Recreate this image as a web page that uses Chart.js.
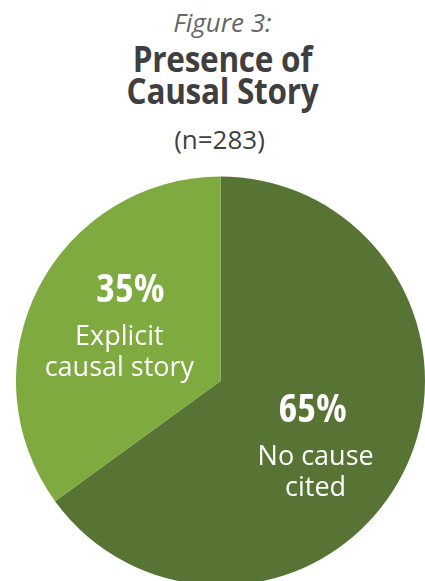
<!DOCTYPE html>
<html>
<head>
<meta charset="utf-8">
<script src="https://cdn.jsdelivr.net/npm/chart.js@4"></script>
<style>
  html, body { margin: 0; padding: 0; background: #ffffff; }
  body { width: 425px; height: 581px; overflow: hidden; position: relative; }
  .t { position: absolute; left: 10px; width: 425px; text-align: center; white-space: nowrap; line-height: 1; font-family: "Open Sans", sans-serif; }
  #fig { top: 9px; font-style: italic; font-weight: 400; font-size: 26px; color: #666666; }
  .head { font-weight: 700; font-size: 35px; color: #3f3f3f; letter-spacing: -0.3px; transform: scaleX(0.9); transform-origin: 50% 50%; }
  #h1 { top: 41px; }
  #h2 { top: 73px; }
  #n { top: 126px; left: 7px; font-weight: 400; font-size: 26px; color: #3f3f3f; }
  #pie { position: absolute; left: 0; top: 176px; }
</style>
</head>
<body>
<div class="t" id="fig">Figure 3:</div>
<div class="t head" id="h1">Presence of</div>
<div class="t head" id="h2">Causal Story</div>
<div class="t" id="n">(n=283)</div>
<canvas id="pie" width="425" height="410"></canvas>
<script>
// Share of stories (n=283) by whether a cause is given
const categories = ['No cause cited', 'Explicit causal story'];
const percentValues = [65, 35];
const labelLines = [['No cause', 'cited'], ['Explicit', 'causal story']];

const sliceColors = ['#587434', '#7eaa3f'];

// Writes the percentage and caption inside each slice, anchored to the slice centroid
const sliceLabels = {
  id: 'sliceLabels',
  afterDatasetsDraw(chart, args, opts) {
    const ctx = chart.ctx;
    const meta = chart.getDatasetMeta(0);
    meta.data.forEach((arc, i) => {
      const p = arc.tooltipPosition();
      const o = opts.offsets[i];
      ctx.save();
      ctx.fillStyle = '#ffffff';
      ctx.textAlign = 'center';
      ctx.textBaseline = 'alphabetic';
      ctx.font = opts.percentFont;
      ctx.fillText(percentValues[i] + '%', p.x + o.dx, p.y + o.dy);
      ctx.font = opts.textFont;
      labelLines[i].forEach((line, j) => {
        ctx.fillText(line, p.x + o.lineDx, p.y + o.dy + opts.firstGap + j * opts.lineGap);
      });
      ctx.restore();
    });
  }
};

Promise.all([
  document.fonts.load('700 39px "Open Sans"'),
  document.fonts.load('400 27px "Open Sans"')
]).then(() => {
  new Chart(document.getElementById('pie'), {
    type: 'pie',
    data: {
      labels: categories,
      datasets: [{
        data: percentValues,
        backgroundColor: sliceColors,
        borderWidth: 0,
        hoverOffset: 0
      }]
    },
    options: {
      responsive: false,
      animation: false,
      rotation: 0,
      layout: { padding: { left: 16, top: 0, right: 0, bottom: 0 } },
      plugins: {
        legend: { display: false },
        tooltip: { enabled: false },
        sliceLabels: {
          percentFont: 'condensed bold 40px "Open Sans", sans-serif',
          textFont: '27px "Open Sans", sans-serif',
          firstGap: 43,
          lineGap: 31,
          offsets: [
            { dx: 1, dy: -5, lineDx: 4 },
            { dx: 1, dy: -33, lineDx: -10 }
          ]
        }
      }
    },
    plugins: [sliceLabels]
  });
});
</script>
</body>
</html>
